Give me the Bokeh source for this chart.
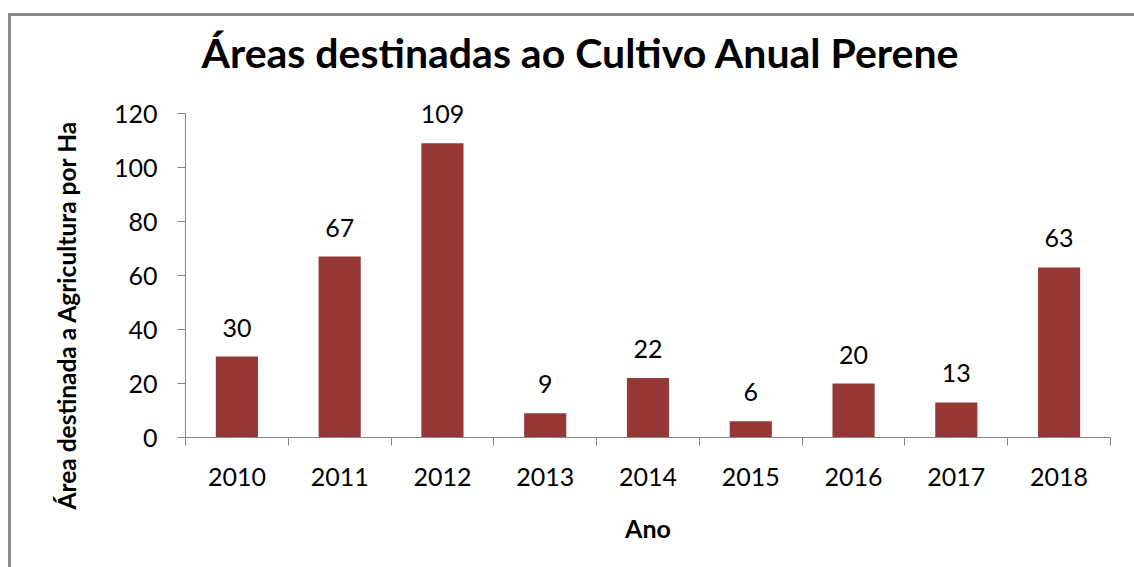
from bokeh.plotting import figure
from bokeh.models import ColumnDataSource, FixedTicker, Range1d, LabelSet, Title, Div, Spacer
from bokeh.layouts import column, row
from bokeh.core.properties import value
from bokeh.embed import file_html
from bokeh.resources import INLINE

categories = ["2010", "2011", "2012", "2013", "2014", "2015", "2016", "2017", "2018"]
values = [30, 67, 109, 9, 22, 6, 20, 13, 63]
y_ticks = [0, 20, 40, 60, 80, 100, 120]

title_text = "Áreas destinadas ao Cultivo Anual Perene"
y_label = "Área destinada a Agricultura por Ha"
x_label = "Ano"

FONT = "Lato"
BAR = "#953735"
AXIS = "#868686"
FRAME = "#8c8c8c"

n = len(categories)
centers = [i + 0.5 for i in range(n)]
bounds = list(range(n + 1))

src = ColumnDataSource(dict(x=centers, top=values, lab=[str(v) for v in values]))

p = figure(width=1123, height=548, output_backend="svg", toolbar_location=None,
           x_range=Range1d(0, n), y_range=Range1d(0, 130),
           min_border_left=174, min_border_right=24, min_border_top=67, min_border_bottom=127)
p.outline_line_color = None
p.grid.grid_line_color = None
p.background_fill_color = "white"
p.border_fill_color = "white"

p.title.text = title_text
p.title.align = "left"
p.title.offset = 16
p.title.text_font = FONT
p.title.text_font_style = "bold"
p.title.text_font_size = "41px"
p.title.text_color = "black"
p.title.standoff = 19

p.vbar(x="x", top="top", width=0.41, source=src, fill_color=BAR, line_color=None)

labels = LabelSet(x="x", y="top", text="lab", source=src, text_align="center",
                  text_baseline="alphabetic", y_offset=20, text_font=value(FONT),
                  text_font_size="25px", text_color="black")
p.add_layout(labels)

xa = p.xaxis[0]
xa.ticker = FixedTicker(ticks=centers, minor_ticks=bounds)
xa.major_label_overrides = {c: lab for c, lab in zip(centers, categories)}
xa.major_tick_out = 0
xa.major_tick_in = 0
xa.minor_tick_out = 8
xa.minor_tick_in = 0
xa.minor_tick_line_color = AXIS
xa.axis_line_color = AXIS
xa.major_label_text_font = FONT
xa.major_label_text_font_size = "25px"
xa.major_label_text_color = "black"
xa.major_label_standoff = 22
xa.axis_label = x_label
xa.axis_label_text_font = FONT
xa.axis_label_text_font_style = "bold"
xa.axis_label_text_font_size = "25px"
xa.axis_label_text_color = "black"
xa.axis_label_standoff = 24

ya = p.yaxis[0]
ya.ticker = FixedTicker(ticks=y_ticks)
ya.bounds = (0, 120)
ya.major_tick_out = 8
ya.major_tick_in = 0
ya.minor_tick_line_color = None
ya.major_tick_line_color = AXIS
ya.axis_line_color = AXIS
ya.major_label_text_font = FONT
ya.major_label_text_font_size = "25px"
ya.major_label_text_color = "black"
ya.major_label_standoff = 20

ylab = Title(text=y_label, align="right", offset=34, text_font=FONT,
             text_font_style="bold", text_font_size="24.5px", text_color="black",
             vertical_align="bottom", standoff=60)
p.add_layout(ylab, "left")

# grey edges of the chart area (top and left)
top_edge = Div(text="", width=1126, height=3, margin=0, styles={"background-color": FRAME})
left_edge = Div(text="", width=3, height=551, margin=0, styles={"background-color": FRAME})

layout = column(
    Spacer(height=13, margin=0),
    row(Spacer(width=8, margin=0),
        column(top_edge, row(left_edge, p, spacing=0), spacing=0),
        spacing=0),
    spacing=0,
)

open("out.html", "w").write(file_html(layout, INLINE))
